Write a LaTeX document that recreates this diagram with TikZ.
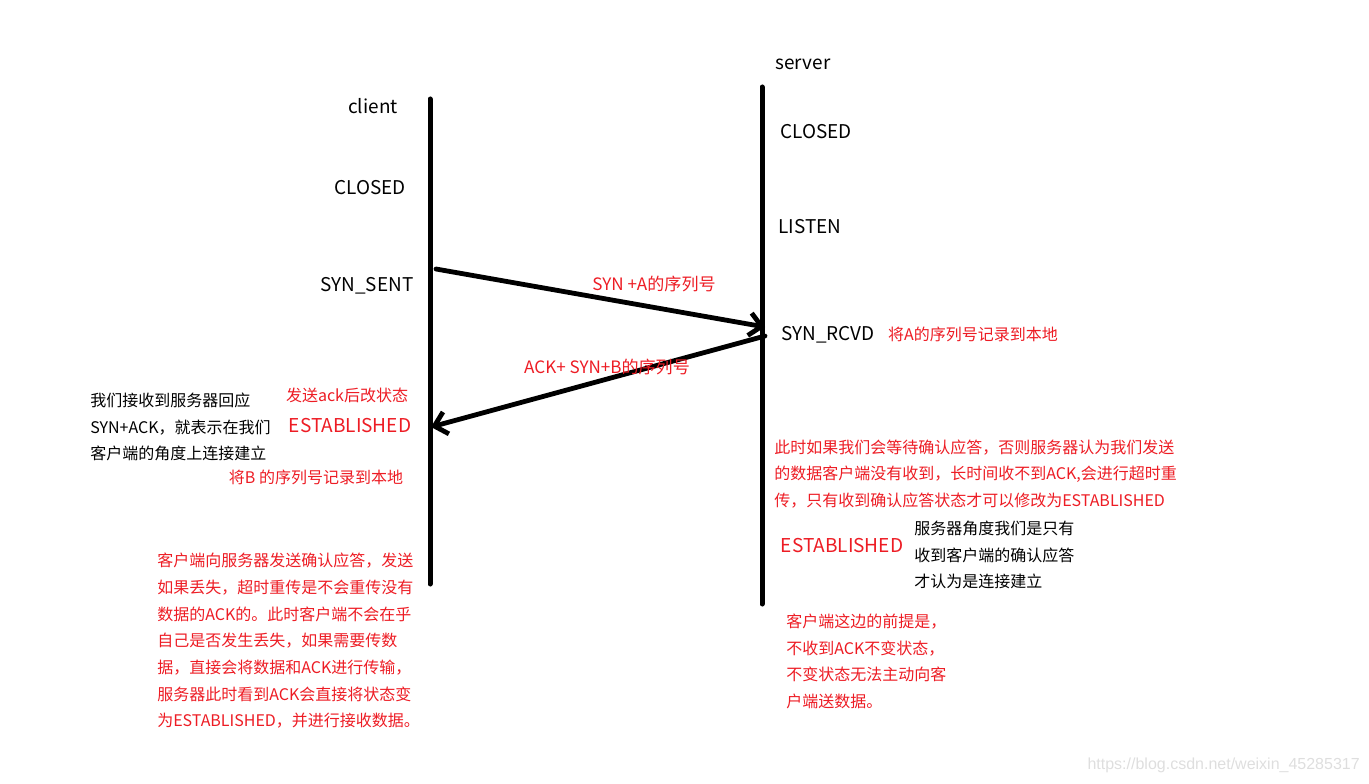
\documentclass[tikz,border=0pt]{standalone}
\usepackage{fontspec}
\newfontfamily\cjk{Noto Sans CJK SC}
\newfontfamily\wmfont{Liberation Sans}
\usetikzlibrary{arrows.meta}
\definecolor{notered}{RGB}{237,28,36}
\definecolor{wmgray}{RGB}{222,222,222}
\tikzset{
  lifeline/.style={line width=3.75pt, line cap=round},
  msg/.style={line width=3.6pt, line cap=round, -{Straight Barb[length=9pt,width=17pt]}},
  state/.style={font=\cjk\fontsize{14.2}{17}\selectfont, inner sep=0pt},
  bignote/.style={font=\cjk\fontsize{14.3}{17}\selectfont, text=notered, inner sep=0pt},
  msglabel/.style={font=\cjk\fontsize{12.8}{16}\selectfont, text=notered, inner sep=0pt},
  note/.style={font=\cjk\fontsize{12}{20}\selectfont, text=notered, inner sep=0pt, align=left},
  remark/.style={font=\cjk\fontsize{12}{20}\selectfont, inner sep=0pt, align=left},
}

\begin{document}
\begin{tikzpicture}[x=0.75pt,y=0.75pt,yscale=-1,xscale=1]
\useasboundingbox (0,0) rectangle (1369,784);

%Lifelines
\coordinate (ctop) at (430,99);
\coordinate (cbot) at (430,584);
\coordinate (stop) at (762,87);
\coordinate (sbot) at (762,604);
\draw [lifeline] (ctop) -- (cbot);
\draw [lifeline] (stop) -- (sbot);

%Messages
\coordinate (synout) at (436,269);
\coordinate (synin) at (765,327);
\coordinate (ackout) at (765,336);
\coordinate (ackin) at (431,427);
\draw [msg] (synout) -- (synin);
\draw [msg] (ackout) -- (ackin);

% Text Node
\draw (373,106) node (client) [state] {client};
% Text Node
\draw (803,64) node (server) [state] {server};
% Text Node
\draw (370,188) node (cclosed) [state] {CLOSED};
% Text Node
\draw (367,286) node (synsent) [state] {SYN\_SENT};
% Text Node
\draw (816,132) node (sclosed) [state] {CLOSED};
% Text Node
\draw (810,227) node (listen) [state] {LISTEN};
% Text Node
\draw (828,335) node (synrcvd) [state] {SYN\_RCVD};
% Text Node
\draw (973,334) node (saveA) [note] {将A的序列号记录到本地};
% Text Node
\draw (654,284) node (synlabel) [msglabel] {SYN +A的序列号};
% Text Node
\draw (607,367) node (acklabel) [msglabel] {ACK+ SYN+B的序列号};
% Text Node
\draw (347,395) node (sendack) [note] {发送ack后改状态};
% Text Node
\draw (350,426) node (cestab) [bignote] {ESTABLISHED};
% Text Node
\draw (90,427) node (cview) [remark, anchor=west] {我们接收到服务器回应\\SYN+ACK，就表示在我们\\客户端的角度上连接建立};
% Text Node
\draw (316,477) node (saveB) [note] {将B 的序列号记录到本地};
% Text Node
\draw (157,641) node (cack) [note, anchor=west] {客户端向服务器发送确认应答，发送\\如果丢失，超时重传是不会重传没有\\数据的ACK的。此时客户端不会在乎\\自己是否发生丢失，如果需要传数\\据，直接会将数据和ACK进行传输，\\服务器此时看到ACK会直接将状态变\\为ESTABLISHED，并进行接收数据。};
% Text Node
\draw (774,474) node (swait) [note, anchor=west] {此时如果我们会等待确认应答，否则服务器认为我们发送\\的数据客户端没有收到，长时间收不到ACK,会进行超时重\\传，只有收到确认应答状态才可以修改为ESTABLISHED};
% Text Node
\draw (842,546) node (sestab) [bignote] {ESTABLISHED};
% Text Node
\draw (914,555) node (sview) [remark, anchor=west] {服务器角度我们是只有\\收到客户端的确认应答\\才认为是连接建立};
% Text Node
\draw (786,661.5) node (cpremise) [note, anchor=west] {客户端这边的前提是，\\不收到ACK不变状态，\\不变状态无法主动向客\\户端送数据。};
% Text Node
\draw (1360,765) node (watermark) [anchor=east, inner sep=0pt, text=wmgray, font=\wmfont\fontsize{12}{14}\selectfont] {https://blog.csdn.net/weixin\_45285317};

\end{tikzpicture}
\end{document}
